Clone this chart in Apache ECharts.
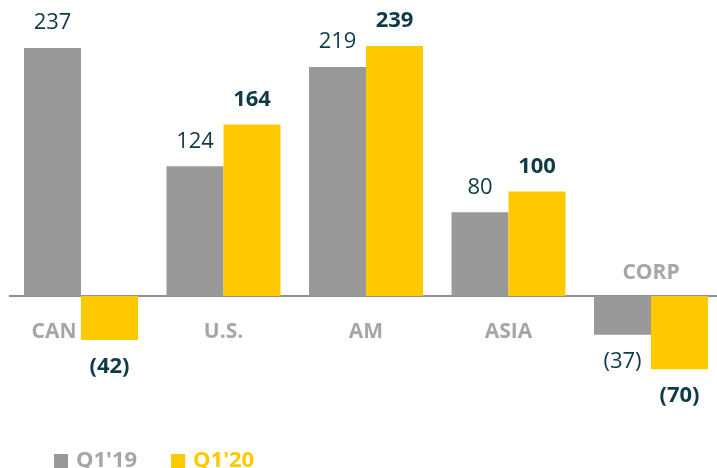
<!DOCTYPE html>
<html>
<head>
<meta charset="utf-8">
<script src="https://cdn.jsdelivr.net/npm/echarts@6/dist/echarts.min.js"></script>
<style>
  html, body { margin: 0; padding: 0; background: #fff; overflow: hidden; }
  #chart { width: 723px; height: 468px; }
</style>
</head>
<body>
<div id="chart"></div>
<script>
  // 数据
  var categories = ["CAN", "U.S.", "AM", "ASIA", "CORP"];
  var seriesNames = ["Q1'19", "Q1'20"];
  var q119 = [237, 124, 219, 80, -37];
  var q120 = [-42, 164, 239, 100, -70];

  var gray = "#999999";
  var yellow = "#ffc900";
  var labelColor = "#0e3b47";
  var catColor = "#a6a6a6";
  var font = "Open Sans";

  // category label nudges (CAN sits left of its negative bar, CORP above the axis)
  var catShift = {
    CAN: [-27, 36],
    CORP: [0, -23]
  };

  var myChart = echarts.init(document.getElementById("chart"));

  function fmt(v) {
    return v < 0 ? "(" + Math.abs(v) + ")" : String(v);
  }

  function valueLabel(bold) {
    return {
      show: true,
      fontFamily: font,
      fontSize: 22,
      fontWeight: bold ? "bold" : "normal",
      color: labelColor,
      distance: 14,
      position: "top",
      formatter: function (p) { return fmt(p.value); }
    };
  }

  function barData(values) {
    return values.map(function (v) {
      var item = { value: v };
      if (v < 0) {
        item.label = { position: "bottom", distance: 16 };
      }
      return item;
    });
  }

  var option = {
    backgroundColor: "#ffffff",
    animation: false,
    grid: {
      left: 9.75,
      right: 0.75,
      top: 34.5,
      bottom: 67.4
    },
    legend: {
      left: 49,
      top: 445,
      icon: "rect",
      itemWidth: 14,
      itemHeight: 14,
      itemGap: 34,
      textStyle: {
        fontFamily: font,
        fontSize: 22,
        fontWeight: "bold",
        padding: [0, 0, 0, 3]
      },
      data: [
        { name: seriesNames[0], textStyle: { color: catColor } },
        { name: seriesNames[1], textStyle: { color: yellow } }
      ]
    },
    xAxis: {
      type: "category",
      data: categories,
      axisTick: { show: false },
      axisLabel: { show: false },
      axisLine: { lineStyle: { color: "#8f8f8f", width: 2 } }
    },
    yAxis: {
      type: "value",
      min: -100,
      max: 250,
      splitLine: { show: false },
      axisLine: { show: false },
      axisTick: { show: false },
      axisLabel: { show: false }
    },
    series: [
      {
        name: seriesNames[0],
        type: "bar",
        barWidth: 57,
        barGap: "0%",
        itemStyle: { color: gray },
        label: valueLabel(false),
        data: barData(q119)
      },
      {
        name: seriesNames[1],
        type: "bar",
        barWidth: 57,
        barGap: "0%",
        itemStyle: { color: yellow },
        label: valueLabel(true),
        data: barData(q120)
      },
      {
        // 类目标签
        type: "custom",
        silent: true,
        z: 5,
        data: categories.map(function (c, i) { return [i, 0]; }),
        renderItem: function (params, api) {
          var name = categories[params.dataIndex];
          var pt = api.coord([api.value(0), api.value(1)]);
          var s = catShift[name] || [0, 36];
          return {
            type: "text",
            x: pt[0] + s[0],
            y: pt[1] + s[1],
            style: {
              text: name,
              fontFamily: font,
              fontSize: 21,
              fontWeight: "bold",
              fill: catColor,
              align: "center",
              verticalAlign: "middle"
            }
          };
        }
      }
    ]
  };

  myChart.setOption(option);
</script>
</body>
</html>
